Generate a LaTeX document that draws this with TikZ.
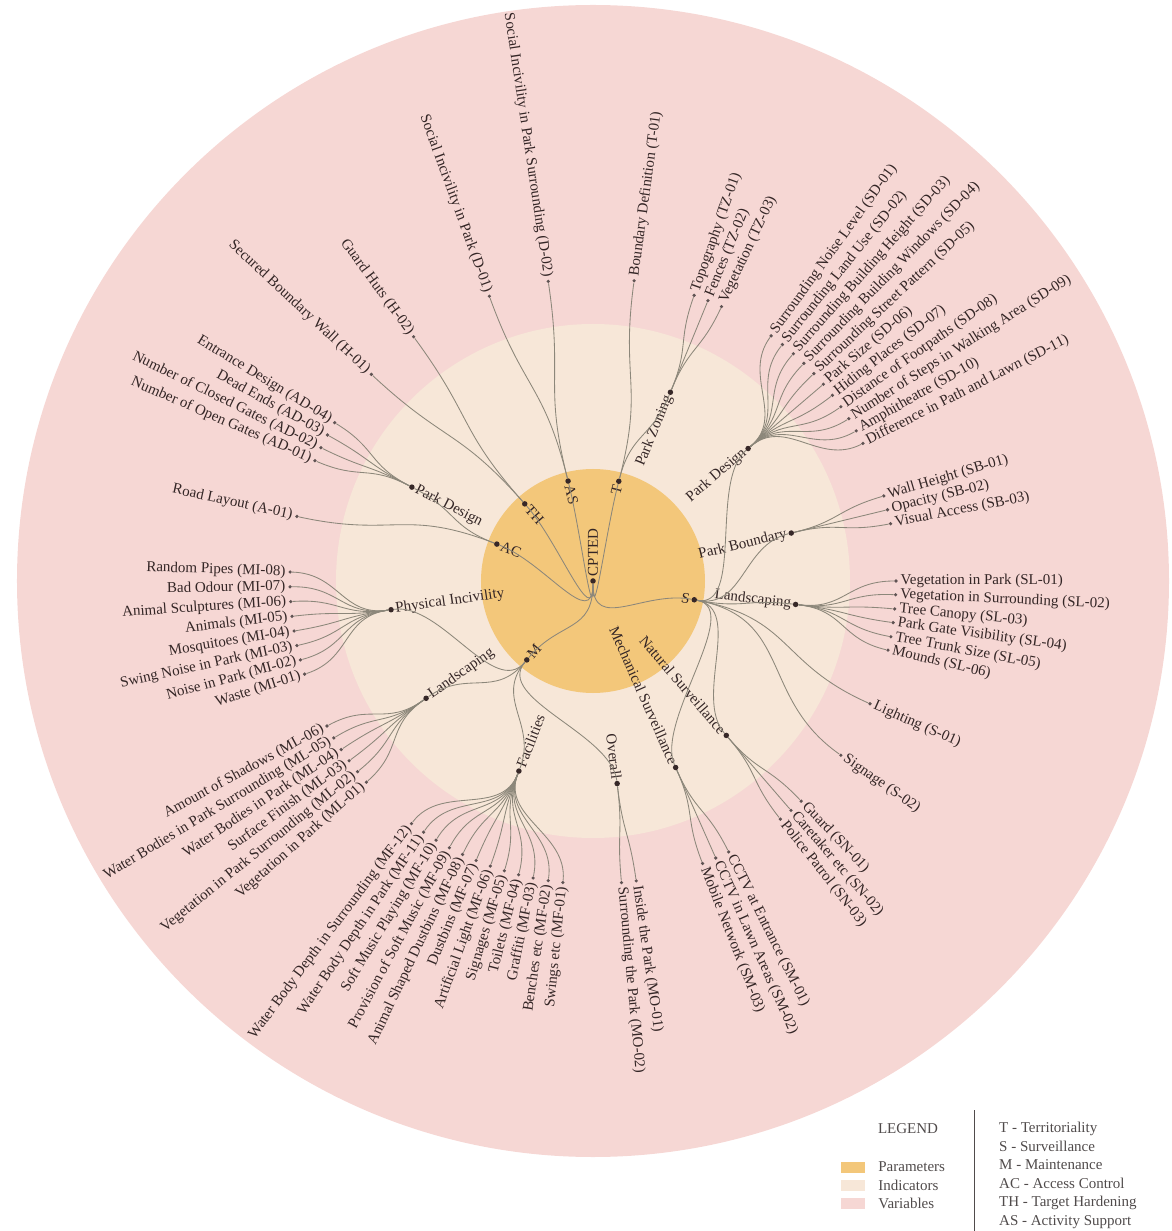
\documentclass[tikz,border=0pt]{standalone}
\usepackage{fontspec}
\setmainfont{Liberation Serif}
\definecolor{cptedPink}{RGB}{246,215,212}
\definecolor{cptedCream}{RGB}{247,231,216}
\definecolor{cptedOrange}{RGB}{243,199,122}
\definecolor{cptedLink}{RGB}{140,135,122}
\definecolor{cptedDot}{RGB}{55,40,40}
\definecolor{cptedText}{RGB}{52,38,38}
\definecolor{cptedKey}{RGB}{80,75,75}
\newcommand{\lblfont}{\fontsize{15}{18.5}\selectfont}
\usetikzlibrary{positioning}

\begin{document}
\begin{tikzpicture}[
  x=1pt, y=1pt,
  link/.style={draw=cptedLink, line width=0.85pt},
  pdot/.style={circle, fill=cptedDot, inner sep=0pt, minimum size=5.5pt},
  vdot/.style={circle, fill=cptedDot!80, inner sep=0pt, minimum size=3.6pt},
  lbl/.style={font=\lblfont, text=cptedText, inner ysep=0pt, inner xsep=4.5pt},
  lbw/.style={lbl, anchor=west, rotate=#1},
  lbe/.style={lbl, anchor=east, rotate=#1},
  swatch/.style={minimum width=24pt, minimum height=11pt, inner sep=0pt},
  key/.style={font=\lblfont, text=cptedKey, inner sep=0pt}
]
  \useasboundingbox (-593,-650) rectangle (578,581);
  \fill[cptedPink] (0,0) circle (576);
  \fill[cptedCream] (0,0) circle (257);
  \fill[cptedOrange] (0,0) circle (112);

  \node[pdot] (cpted) at (0,0) {};
  \node[lbw=90] at (cpted) {CPTED};

  \node[pdot] (t) at (75.5:103) {};
  \node[pdot] (as) at (104:103) {};
  \node[pdot] (th) at (131.5:103) {};
  \node[pdot] (ac) at (159:103) {};
  \node[pdot] (s) at (-10.5:103) {};
  \node[pdot] (m) at (230:103) {};
  \node[lbe=75.5] at (t) {T};
  \node[lbw=-76] at (as) {AS};
  \node[lbw=-48.5] at (th) {TH};
  \node[lbw=-21] at (ac) {AC};
  \node[lbe=-10.5] at (s) {S};
  \node[lbw=50] at (m) {M};
  \draw[link] (cpted) .. controls (-90:51.5) and (75.5:51.5) .. (t);
  \draw[link] (cpted) .. controls (-90:51.5) and (104:51.5) .. (as);
  \draw[link] (cpted) .. controls (-90:51.5) and (131.5:51.5) .. (th);
  \draw[link] (cpted) .. controls (-90:51.5) and (159:51.5) .. (ac);
  \draw[link] (cpted) .. controls (-90:51.5) and (-10.5:51.5) .. (s);
  \draw[link] (cpted) .. controls (-90:51.5) and (230:51.5) .. (m);

  \node[pdot] (tz) at (67.7:204) {};
  \node[pdot] (sd) at (40.5:204) {};
  \node[pdot] (sb) at (13.6:204) {};
  \node[pdot] (sl) at (-6.6:204) {};
  \node[pdot] (sn) at (-49.2:204) {};
  \node[pdot] (sm) at (-66.1:204) {};
  \node[pdot] (mo) at (-83.2:204) {};
  \node[pdot] (mf) at (248.7:204) {};
  \node[pdot] (ml) at (215.1:204) {};
  \node[pdot] (mi) at (188.1:204) {};
  \node[pdot] (ad) at (152.6:204) {};
  \node[lbe=67.7] at (tz) {Park Zoning};
  \node[lbe=40.5] at (sd) {Park Design};
  \node[lbe=13.6] at (sb) {Park Boundary};
  \node[lbe=-6.6] at (sl) {Landscaping};
  \node[lbe=-49.2] at (sn) {Natural Surveillance};
  \node[lbe=-66.1] at (sm) {Mechanical Surveillance};
  \node[lbe=-83.2] at (mo) {Overall};
  \node[lbw=68.7] at (mf) {Facilities};
  \node[lbw=35.1] at (ml) {Landscaping};
  \node[lbw=8.1] at (mi) {Physical Incivility};
  \node[lbw=-27.4] at (ad) {Park Design};
  \draw[link] (t) .. controls (75.5:153.5) and (67.7:153.5) .. (tz);
  \draw[link] (s) .. controls (-10.5:153.5) and (40.5:153.5) .. (sd);
  \draw[link] (s) .. controls (-10.5:153.5) and (13.6:153.5) .. (sb);
  \draw[link] (s) .. controls (-10.5:153.5) and (-6.6:153.5) .. (sl);
  \draw[link] (s) .. controls (-10.5:153.5) and (-49.2:153.5) .. (sn);
  \draw[link] (s) .. controls (-10.5:153.5) and (-66.1:153.5) .. (sm);
  \draw[link] (m) .. controls (230:153.5) and (-83.2:153.5) .. (mo);
  \draw[link] (m) .. controls (230:153.5) and (248.7:153.5) .. (mf);
  \draw[link] (m) .. controls (230:153.5) and (215.1:153.5) .. (ml);
  \draw[link] (m) .. controls (230:153.5) and (188.1:153.5) .. (mi);
  \draw[link] (ac) .. controls (159:153.5) and (152.6:153.5) .. (ad);

  \node[vdot] (d01) at (110:303) {};
  \node[vdot] (d02) at (98.5:303) {};
  \node[lbe=-70] at (d01) {Social Incivility in Park (D-01)};
  \node[lbe=-81.5] at (d02) {Social Incivility in Park Surrounding (D-02)};
  \draw[link] (as) .. controls (104:203) and (110:203) .. (d01);
  \draw[link] (as) .. controls (104:203) and (98.5:203) .. (d02);

  \node[vdot] (t01) at (82.2:303) {};
  \node[lbw=82.2] at (t01) {Boundary Definition (T-01)};
  \draw[link] (t) .. controls (75.5:203) and (82.2:203) .. (t01);
  \node[vdot] (tz01) at (70.5:303) {};
  \node[vdot] (tz02) at (67.7:303) {};
  \node[vdot] (tz03) at (64.9:303) {};
  \node[lbw=70.5] at (tz01) {Topography (TZ-01)};
  \node[lbw=67.7] at (tz02) {Fences (TZ-02)};
  \node[lbw=64.9] at (tz03) {Vegetation (TZ-03)};
  \draw[link] (tz) .. controls (67.7:253.5) and (70.5:253.5) .. (tz01);
  \draw[link] (tz) .. controls (67.7:253.5) and (67.7:253.5) .. (tz02);
  \draw[link] (tz) .. controls (67.7:253.5) and (64.9:253.5) .. (tz03);

  \node[vdot] (sd01) at (54:303) {};
  \node[vdot] (sd02) at (51.3:303) {};
  \node[vdot] (sd03) at (48.6:303) {};
  \node[vdot] (sd04) at (45.9:303) {};
  \node[vdot] (sd05) at (43.2:303) {};
  \node[vdot] (sd06) at (40.5:303) {};
  \node[vdot] (sd07) at (37.8:303) {};
  \node[vdot] (sd08) at (35.1:303) {};
  \node[vdot] (sd09) at (32.4:303) {};
  \node[vdot] (sd10) at (29.7:303) {};
  \node[vdot] (sd11) at (27:303) {};
  \node[lbw=54] at (sd01) {Surrounding Noise Level (SD-01)};
  \node[lbw=51.3] at (sd02) {Surrounding Land Use (SD-02)};
  \node[lbw=48.6] at (sd03) {Surrounding Building Height (SD-03)};
  \node[lbw=45.9] at (sd04) {Surrounding Building Windows (SD-04)};
  \node[lbw=43.2] at (sd05) {Surrounding Street Pattern (SD-05)};
  \node[lbw=40.5] at (sd06) {Park Size (SD-06)};
  \node[lbw=37.8] at (sd07) {Hiding Places (SD-07)};
  \node[lbw=35.1] at (sd08) {Distance of Footpaths (SD-08)};
  \node[lbw=32.4] at (sd09) {Number of Steps in Walking Area (SD-09)};
  \node[lbw=29.7] at (sd10) {Amphitheatre (SD-10)};
  \node[lbw=27] at (sd11) {Difference in Path and Lawn (SD-11)};
  \draw[link] (sd) .. controls (40.5:253.5) and (54:253.5) .. (sd01);
  \draw[link] (sd) .. controls (40.5:253.5) and (51.3:253.5) .. (sd02);
  \draw[link] (sd) .. controls (40.5:253.5) and (48.6:253.5) .. (sd03);
  \draw[link] (sd) .. controls (40.5:253.5) and (45.9:253.5) .. (sd04);
  \draw[link] (sd) .. controls (40.5:253.5) and (43.2:253.5) .. (sd05);
  \draw[link] (sd) .. controls (40.5:253.5) and (40.5:253.5) .. (sd06);
  \draw[link] (sd) .. controls (40.5:253.5) and (37.8:253.5) .. (sd07);
  \draw[link] (sd) .. controls (40.5:253.5) and (35.1:253.5) .. (sd08);
  \draw[link] (sd) .. controls (40.5:253.5) and (32.4:253.5) .. (sd09);
  \draw[link] (sd) .. controls (40.5:253.5) and (29.7:253.5) .. (sd10);
  \draw[link] (sd) .. controls (40.5:253.5) and (27:253.5) .. (sd11);

  \node[vdot] (sb01) at (16.3:303) {};
  \node[vdot] (sb02) at (13.6:303) {};
  \node[vdot] (sb03) at (10.9:303) {};
  \node[lbw=16.3] at (sb01) {Wall Height (SB-01)};
  \node[lbw=13.6] at (sb02) {Opacity (SB-02)};
  \node[lbw=10.9] at (sb03) {Visual Access (SB-03)};
  \draw[link] (sb) .. controls (13.6:253.5) and (16.3:253.5) .. (sb01);
  \draw[link] (sb) .. controls (13.6:253.5) and (13.6:253.5) .. (sb02);
  \draw[link] (sb) .. controls (13.6:253.5) and (10.9:253.5) .. (sb03);

  \node[vdot] (sl01) at (0:303) {};
  \node[vdot] (sl02) at (-2.6:303) {};
  \node[vdot] (sl03) at (-5.3:303) {};
  \node[vdot] (sl04) at (-7.9:303) {};
  \node[vdot] (sl05) at (-10.6:303) {};
  \node[vdot] (sl06) at (-13.2:303) {};
  \node[lbw=0] at (sl01) {Vegetation in Park (SL-01)};
  \node[lbw=-2.6] at (sl02) {Vegetation in Surrounding (SL-02)};
  \node[lbw=-5.3] at (sl03) {Tree Canopy (SL-03)};
  \node[lbw=-7.9] at (sl04) {Park Gate Visibility (SL-04)};
  \node[lbw=-10.6] at (sl05) {Tree Trunk Size (SL-05)};
  \node[lbw=-13.2] at (sl06) {Mounds (SL-06)};
  \draw[link] (sl) .. controls (-6.6:253.5) and (0:253.5) .. (sl01);
  \draw[link] (sl) .. controls (-6.6:253.5) and (-2.6:253.5) .. (sl02);
  \draw[link] (sl) .. controls (-6.6:253.5) and (-5.3:253.5) .. (sl03);
  \draw[link] (sl) .. controls (-6.6:253.5) and (-7.9:253.5) .. (sl04);
  \draw[link] (sl) .. controls (-6.6:253.5) and (-10.6:253.5) .. (sl05);
  \draw[link] (sl) .. controls (-6.6:253.5) and (-13.2:253.5) .. (sl06);

  \node[vdot] (s01) at (-23.9:303) {};
  \node[vdot] (s02) at (-35.1:303) {};
  \node[lbw=-23.9] at (s01) {Lighting (S-01)};
  \node[lbw=-35.1] at (s02) {Signage (S-02)};
  \draw[link] (s) .. controls (-10.5:203) and (-23.9:203) .. (s01);
  \draw[link] (s) .. controls (-10.5:203) and (-35.1:203) .. (s02);

  \node[vdot] (sn01) at (-46.6:303) {};
  \node[vdot] (sn02) at (-49.2:303) {};
  \node[vdot] (sn03) at (-51.8:303) {};
  \node[lbw=-46.6] at (sn01) {Guard (SN-01)};
  \node[lbw=-49.2] at (sn02) {Caretaker etc (SN-02)};
  \node[lbw=-51.8] at (sn03) {Police Patrol (SN-03)};
  \draw[link] (sn) .. controls (-49.2:253.5) and (-46.6:253.5) .. (sn01);
  \draw[link] (sn) .. controls (-49.2:253.5) and (-49.2:253.5) .. (sn02);
  \draw[link] (sn) .. controls (-49.2:253.5) and (-51.8:253.5) .. (sn03);

  \node[vdot] (sm01) at (-63.4:303) {};
  \node[vdot] (sm02) at (-66.1:303) {};
  \node[vdot] (sm03) at (-68.8:303) {};
  \node[lbw=-63.4] at (sm01) {CCTV at Entrance (SM-01)};
  \node[lbw=-66.1] at (sm02) {CCTV in Lawn Areas (SM-02)};
  \node[lbw=-68.8] at (sm03) {Mobile Network (SM-03)};
  \draw[link] (sm) .. controls (-66.1:253.5) and (-63.4:253.5) .. (sm01);
  \draw[link] (sm) .. controls (-66.1:253.5) and (-66.1:253.5) .. (sm02);
  \draw[link] (sm) .. controls (-66.1:253.5) and (-68.8:253.5) .. (sm03);

  \node[vdot] (mo01) at (-81.8:303) {};
  \node[vdot] (mo02) at (-84.6:303) {};
  \node[lbw=-81.8] at (mo01) {Inside the Park (MO-01)};
  \node[lbw=-84.6] at (mo02) {Surrounding the Park (MO-02)};
  \draw[link] (mo) .. controls (-83.2:253.5) and (-81.8:253.5) .. (mo01);
  \draw[link] (mo) .. controls (-83.2:253.5) and (-84.6:253.5) .. (mo02);

  \node[vdot] (mf01) at (264.3:303) {};
  \node[vdot] (mf02) at (261.5:303) {};
  \node[vdot] (mf03) at (258.6:303) {};
  \node[vdot] (mf04) at (255.8:303) {};
  \node[vdot] (mf05) at (253:303) {};
  \node[vdot] (mf06) at (250.2:303) {};
  \node[vdot] (mf07) at (247.3:303) {};
  \node[vdot] (mf08) at (244.5:303) {};
  \node[vdot] (mf09) at (241.7:303) {};
  \node[vdot] (mf10) at (238.8:303) {};
  \node[vdot] (mf11) at (236:303) {};
  \node[vdot] (mf12) at (233.2:303) {};
  \node[lbe=84.3] at (mf01) {Swings etc (MF-01)};
  \node[lbe=81.5] at (mf02) {Benches etc (MF-02)};
  \node[lbe=78.6] at (mf03) {Graffiti (MF-03)};
  \node[lbe=75.8] at (mf04) {Toilets (MF-04)};
  \node[lbe=73] at (mf05) {Signages (MF-05)};
  \node[lbe=70.2] at (mf06) {Artificial Light (MF-06)};
  \node[lbe=67.3] at (mf07) {Dustbins (MF-07)};
  \node[lbe=64.5] at (mf08) {Animal Shaped Dustbins (MF-08)};
  \node[lbe=61.7] at (mf09) {Provision of Soft Music (MF-09)};
  \node[lbe=58.8] at (mf10) {Soft Music Playing (MF-10)};
  \node[lbe=56] at (mf11) {Water Body Depth in Park (MF-11)};
  \node[lbe=53.2] at (mf12) {Water Body Depth in Surrounding (MF-12)};
  \draw[link] (mf) .. controls (248.7:253.5) and (264.3:253.5) .. (mf01);
  \draw[link] (mf) .. controls (248.7:253.5) and (261.5:253.5) .. (mf02);
  \draw[link] (mf) .. controls (248.7:253.5) and (258.6:253.5) .. (mf03);
  \draw[link] (mf) .. controls (248.7:253.5) and (255.8:253.5) .. (mf04);
  \draw[link] (mf) .. controls (248.7:253.5) and (253:253.5) .. (mf05);
  \draw[link] (mf) .. controls (248.7:253.5) and (250.2:253.5) .. (mf06);
  \draw[link] (mf) .. controls (248.7:253.5) and (247.3:253.5) .. (mf07);
  \draw[link] (mf) .. controls (248.7:253.5) and (244.5:253.5) .. (mf08);
  \draw[link] (mf) .. controls (248.7:253.5) and (241.7:253.5) .. (mf09);
  \draw[link] (mf) .. controls (248.7:253.5) and (238.8:253.5) .. (mf10);
  \draw[link] (mf) .. controls (248.7:253.5) and (236:253.5) .. (mf11);
  \draw[link] (mf) .. controls (248.7:253.5) and (233.2:253.5) .. (mf12);

  \node[vdot] (ml01) at (221.6:303) {};
  \node[vdot] (ml02) at (219:303) {};
  \node[vdot] (ml03) at (216.4:303) {};
  \node[vdot] (ml04) at (213.8:303) {};
  \node[vdot] (ml05) at (211.2:303) {};
  \node[vdot] (ml06) at (208.6:303) {};
  \node[lbe=41.6] at (ml01) {Vegetation in Park (ML-01)};
  \node[lbe=39] at (ml02) {Vegetation in Park Surrounding (ML-02)};
  \node[lbe=36.4] at (ml03) {Surface Finish (ML-03)};
  \node[lbe=33.8] at (ml04) {Water Bodies in Park (ML-04)};
  \node[lbe=31.2] at (ml05) {Water Bodies in Park Surrounding (ML-05)};
  \node[lbe=28.6] at (ml06) {Amount of Shadows (ML-06)};
  \draw[link] (ml) .. controls (215.1:253.5) and (221.6:253.5) .. (ml01);
  \draw[link] (ml) .. controls (215.1:253.5) and (219:253.5) .. (ml02);
  \draw[link] (ml) .. controls (215.1:253.5) and (216.4:253.5) .. (ml03);
  \draw[link] (ml) .. controls (215.1:253.5) and (213.8:253.5) .. (ml04);
  \draw[link] (ml) .. controls (215.1:253.5) and (211.2:253.5) .. (ml05);
  \draw[link] (ml) .. controls (215.1:253.5) and (208.6:253.5) .. (ml06);

  \node[vdot] (mi01) at (197.9:303) {};
  \node[vdot] (mi02) at (195.1:303) {};
  \node[vdot] (mi03) at (192.3:303) {};
  \node[vdot] (mi04) at (189.5:303) {};
  \node[vdot] (mi05) at (186.7:303) {};
  \node[vdot] (mi06) at (183.9:303) {};
  \node[vdot] (mi07) at (181.1:303) {};
  \node[vdot] (mi08) at (178.3:303) {};
  \node[lbe=17.9] at (mi01) {Waste (MI-01)};
  \node[lbe=15.1] at (mi02) {Noise in Park (MI-02)};
  \node[lbe=12.3] at (mi03) {Swing Noise in Park (MI-03)};
  \node[lbe=9.5] at (mi04) {Mosquitoes (MI-04)};
  \node[lbe=6.7] at (mi05) {Animals (MI-05)};
  \node[lbe=3.9] at (mi06) {Animal Sculptures (MI-06)};
  \node[lbe=1.1] at (mi07) {Bad Odour (MI-07)};
  \node[lbe=-1.7] at (mi08) {Random Pipes (MI-08)};
  \draw[link] (mi) .. controls (188.1:253.5) and (197.9:253.5) .. (mi01);
  \draw[link] (mi) .. controls (188.1:253.5) and (195.1:253.5) .. (mi02);
  \draw[link] (mi) .. controls (188.1:253.5) and (192.3:253.5) .. (mi03);
  \draw[link] (mi) .. controls (188.1:253.5) and (189.5:253.5) .. (mi04);
  \draw[link] (mi) .. controls (188.1:253.5) and (186.7:253.5) .. (mi05);
  \draw[link] (mi) .. controls (188.1:253.5) and (183.9:253.5) .. (mi06);
  \draw[link] (mi) .. controls (188.1:253.5) and (181.1:253.5) .. (mi07);
  \draw[link] (mi) .. controls (188.1:253.5) and (178.3:253.5) .. (mi08);

  \node[vdot] (a01) at (167.7:303) {};
  \node[lbe=-12.3] at (a01) {Road Layout (A-01)};
  \draw[link] (ac) .. controls (159:203) and (167.7:203) .. (a01);
  \node[vdot] (ad01) at (156.6:303) {};
  \node[vdot] (ad02) at (153.9:303) {};
  \node[vdot] (ad03) at (151.2:303) {};
  \node[vdot] (ad04) at (148.5:303) {};
  \node[lbe=-23.4] at (ad01) {Number of Open Gates (AD-01)};
  \node[lbe=-26.1] at (ad02) {Number of Closed Gates (AD-02)};
  \node[lbe=-28.8] at (ad03) {Dead Ends (AD-03)};
  \node[lbe=-31.5] at (ad04) {Entrance Design (AD-04)};
  \draw[link] (ad) .. controls (152.6:253.5) and (156.6:253.5) .. (ad01);
  \draw[link] (ad) .. controls (152.6:253.5) and (153.9:253.5) .. (ad02);
  \draw[link] (ad) .. controls (152.6:253.5) and (151.2:253.5) .. (ad03);
  \draw[link] (ad) .. controls (152.6:253.5) and (148.5:253.5) .. (ad04);

  \node[vdot] (h01) at (137:303) {};
  \node[vdot] (h02) at (126.3:303) {};
  \node[lbe=-43] at (h01) {Secured Boundary Wall (H-01)};
  \node[lbe=-53.7] at (h02) {Guard Huts (H-02)};
  \draw[link] (th) .. controls (131.5:203) and (137:203) .. (h01);
  \draw[link] (th) .. controls (131.5:203) and (126.3:203) .. (h02);

  \node[key] (legend) at (315,-548) {LEGEND};
  \node[swatch, fill=cptedOrange] (swpar) at (260,-586) {};
  \node[swatch, fill=cptedCream] (swind) at (260,-604) {};
  \node[swatch, fill=cptedPink] (swvar) at (260,-622) {};
  \node[key, right=13pt of swpar] (kpar) {Parameters};
  \node[key, right=13pt of swind] (kind) {Indicators};
  \node[key, right=13pt of swvar] (kvar) {Variables};
  \coordinate (divtop) at (381,-529);
  \coordinate (divbot) at (381,-650);
  \draw[cptedKey, line width=1pt] (divtop) -- (divbot);
  \node[key, anchor=north west, align=left] (abbr) at (406,-541) {T - Territoriality\\S - Surveillance\\M - Maintenance\\AC - Access Control\\TH - Target Hardening\\AS - Activity Support};
\end{tikzpicture}
\end{document}
